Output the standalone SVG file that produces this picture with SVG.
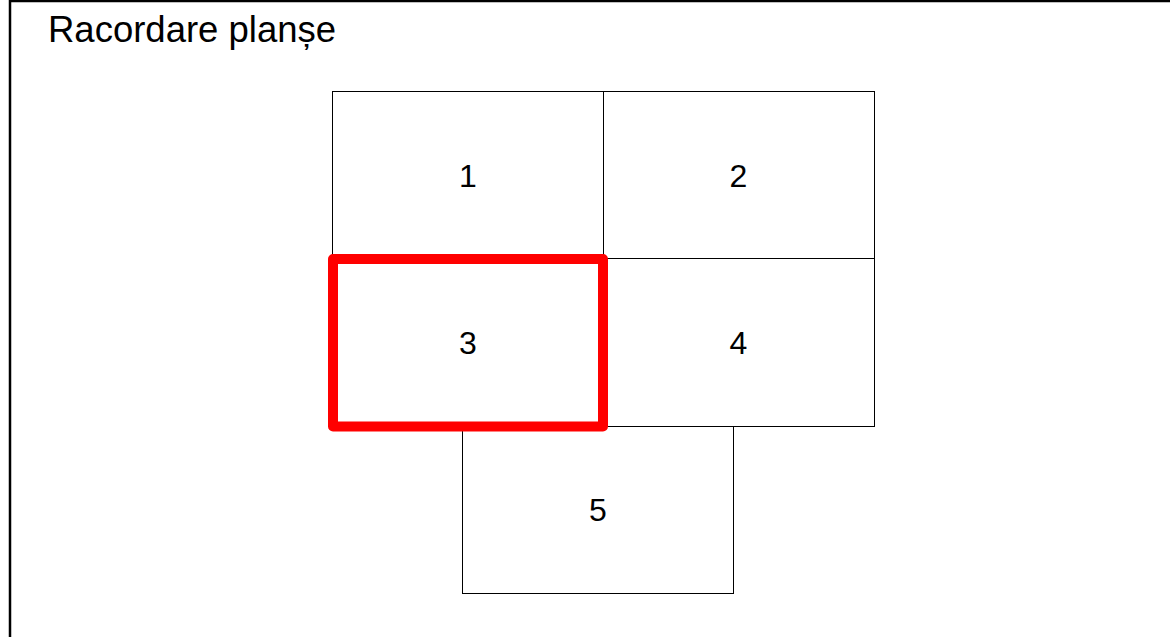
<svg xmlns="http://www.w3.org/2000/svg" width="1170" height="637" viewBox="0 0 1170 637">
<style>
.cell{fill:none;stroke:#000;stroke-width:1}
.lbl{font-family:"Liberation Sans",Arial,sans-serif;font-size:32px;fill:#000;text-anchor:middle}
.title{font-family:"Liberation Sans",Arial,sans-serif;font-size:36.5px;fill:#000}
</style>
<rect width="1170" height="637" fill="#fff"/>
<rect id="frame" x="10" y="1" width="1300" height="800" fill="none" stroke="#000" stroke-width="2.5"/>
<text class="title" x="48" y="42">Racordare planșe</text>
<g id="n1"><rect class="cell" x="332.5" y="91.5" width="271" height="167"/><text class="lbl" x="468" y="187">1</text></g>
<g id="n2"><rect class="cell" x="603.5" y="91.5" width="271" height="167"/><text class="lbl" x="738.5" y="187">2</text></g>
<g id="n4"><rect class="cell" x="603.5" y="258.5" width="271" height="168"/><text class="lbl" x="738.5" y="353.5">4</text></g>
<g id="n5"><rect class="cell" x="462.5" y="426.5" width="271" height="167"/><text class="lbl" x="598" y="521">5</text></g>
<g id="n3"><rect x="333" y="259" width="270" height="167.5" fill="none" stroke="#ff0000" stroke-width="10" stroke-linejoin="round"/><text class="lbl" x="468" y="353.5">3</text></g>
<g id="connectors"/>
</svg>
